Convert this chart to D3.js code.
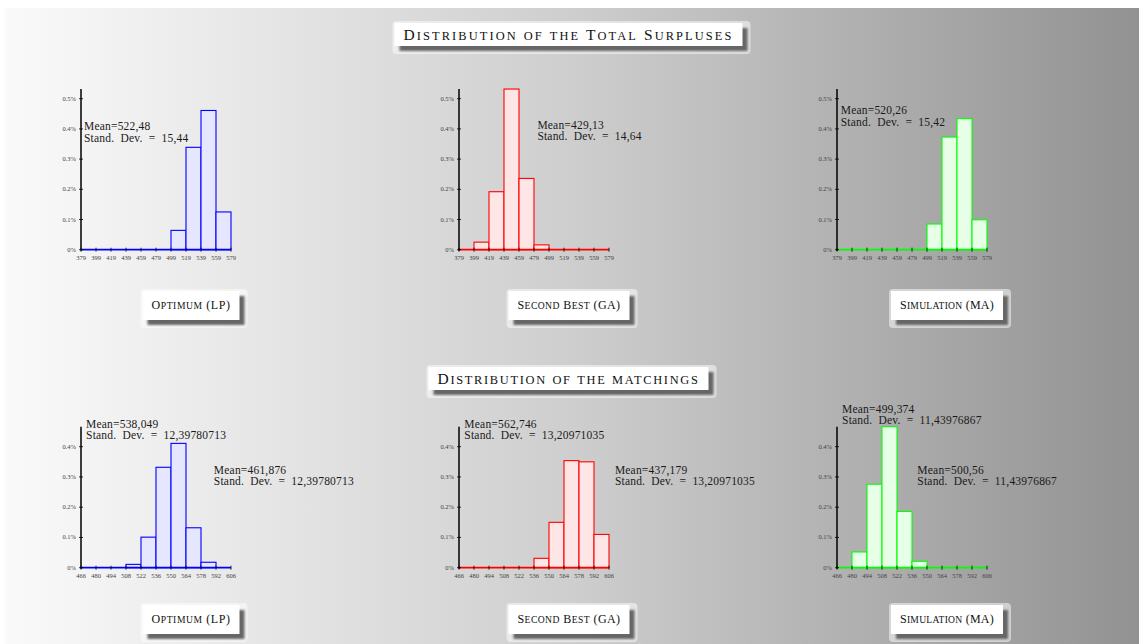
<!DOCTYPE html>
<html lang="en">
<head>
<meta charset="UTF-8">
<title>Distributions</title>
<script src="https://d3js.org/d3.v7.min.js"></script>
<style>
    body{ margin:0; background:#fff; }
    svg{ display:block; }
    .note{
        font-family: "Liberation Serif", serif;
        font-size: 11.5px;
        letter-spacing: 0.2px;
        fill: #1a1a1a;
    }
    .tick-label{
        font-family: "Liberation Serif", serif;
        font-size: 6.5px;
        fill: #444;
    }
    .caps{
        font-family: "Liberation Serif", serif;
        fill: #111;
    }
</style>
</head>
<body>
<svg width="1139" height="644"></svg>
<script>
    // bin edges (x tick labels)
    const surplusEdges = [379, 399, 419, 439, 459, 479, 499, 519, 539, 559, 579]
    const matchingEdges = [466, 480, 494, 508, 522, 536, 550, 564, 578, 592, 606]

    // bar heights, in %
    const lpSurplus = [0, 0, 0, 0, 0, 0, 0.064, 0.339, 0.461, 0.125]
    const gaSurplus = [0, 0.025, 0.192, 0.532, 0.236, 0.016, 0, 0, 0, 0]
    const maSurplus = [0, 0, 0, 0, 0, 0, 0.085, 0.373, 0.434, 0.099]
    const lpMatching = [0, 0, 0, 0.011, 0.101, 0.332, 0.411, 0.132, 0.018, 0]
    const gaMatching = [0, 0, 0, 0, 0, 0.031, 0.150, 0.354, 0.350, 0.110]
    const maMatching = [0, 0.052, 0.276, 0.466, 0.186, 0.021, 0, 0, 0, 0]

    // y tick values per row
    const surplusTicks = [0, 0.1, 0.2, 0.3, 0.4, 0.5]
    const matchingTicks = [0, 0.1, 0.2, 0.3, 0.4]

    // texts
    const rowTitles = ["Distribution of the Total Surpluses", "Distribution of the matchings"]
    const methodNames = ["Optimum (LP)", "Second Best (GA)", "Simulation (MA)"]
    const surplusNotes = [
        ["Mean=522,48", "Stand.  Dev.  =  15,44"],
        ["Mean=429,13", "Stand.  Dev.  =  14,64"],
        ["Mean=520,26", "Stand.  Dev.  =  15,42"]
    ]
    const matchingNotesA = [
        ["Mean=538,049", "Stand.  Dev.  =  12,39780713"],
        ["Mean=562,746", "Stand.  Dev.  =  13,20971035"],
        ["Mean=499,374", "Stand.  Dev.  =  11,43976867"]
    ]
    const matchingNotesB = [
        ["Mean=461,876", "Stand.  Dev.  =  12,39780713"],
        ["Mean=437,179", "Stand.  Dev.  =  13,20971035"],
        ["Mean=500,56", "Stand.  Dev.  =  11,43976867"]
    ]

    const colors = ["#0000ff", "#ff0000", "#00ff00"]
    const fills = ["#e6e6ff", "#ffe6e6", "#e6ffe6"]

    // layout
    const colX = [81, 459, 837]
    const plotW = 150
    const titleWidths = [330, 262]
    const labelWidths = [79, 103, 94]
    const rows = [
        {edges: surplusEdges, series: [lpSurplus, gaSurplus, maSurplus], ticks: surplusTicks,
         y0: 249.7, pxPerUnit: 302, titleY: 23, labelY: 291,
         notes: [surplusNotes], notePos: [[[383, 0.395], [483.5, 0.400], [384, 0.449]]]},
        {edges: matchingEdges, series: [lpMatching, gaMatching, maMatching], ticks: matchingTicks,
         y0: 567.7, pxPerUnit: 302.5, titleY: 367, labelY: 605,
         notes: [matchingNotesA, matchingNotesB],
         notePos: [[[470.7, 0.462], [471, 0.462], [470.7, 0.512]],
                   [[590, 0.31], [611.5, 0.31], [541, 0.31]]]}
    ]

    let svg = d3.select("svg")
    let width = 1139, height = 644

    // background gradient
    let defs = svg.append("defs")
    let grad = defs.append("linearGradient").attr("id", "bg")
        .attr("x1", "0%").attr("x2", "100%").attr("y1", "0%").attr("y2", "0%")
    grad.append("stop").attr("offset", "0%").attr("stop-color", "#fafafa")
    grad.append("stop").attr("offset", "50%").attr("stop-color", "#cecece")
    grad.append("stop").attr("offset", "100%").attr("stop-color", "#929292")
    let blur = defs.append("filter").attr("id", "soft")
        .attr("x", "-20%").attr("y", "-20%").attr("width", "140%").attr("height", "140%")
    blur.append("feGaussianBlur").attr("stdDeviation", 0.8)

    svg.append("rect").attr("x", 5).attr("y", 8)
        .attr("width", width - 5).attr("height", height - 8)
        .attr("fill", "url(#bg)")

    // fake small caps: lowercase runs become smaller capitals
    function smallCaps(t, str, size, ratio) {
        let runs = str.match(/[a-z]+|[^a-z]+/g)
        runs.forEach(run => {
            let lower = /[a-z]/.test(run)
            t.append("tspan")
                .style("font-size", (lower ? size * ratio : size) + "px")
                .text(run.toUpperCase())
        })
    }

    // white box with drop shadow, centred on cx
    function shadowBox(cx, top, h, text, size, targetW, padX) {
        let g = svg.append("g")
        let t = g.append("text").attr("class", "caps")
            .style("font-size", size + "px")
            .attr("xml:space", "preserve")
            .attr("y", top + h / 2 + size * 0.33)
        smallCaps(t, text, size, 0.8)
        let natural = t.node().getComputedTextLength()
        let ls = Math.max(0, (targetW - natural) / text.length)
        t.style("letter-spacing", ls + "px")
        let w = targetW + padX * 2
        let x = cx - w / 2
        t.attr("x", x + padX)
        g.insert("rect", "text").attr("x", x - 2).attr("y", top - 2)
            .attr("width", w + 10).attr("height", h + 10).attr("rx", 4)
            .attr("fill", "#ffffff").attr("fill-opacity", 0.5)
        g.insert("rect", "text").attr("x", x + 5).attr("y", top + 5)
            .attr("width", w).attr("height", h)
            .attr("fill", "#666").attr("filter", "url(#soft)")
        g.insert("rect", "text").attr("x", x).attr("y", top)
            .attr("width", w).attr("height", h)
            .attr("fill", "#ffffff")
    }

    rows.forEach((row, r) => {
        let yMax = d3.max(row.series, s => d3.max(s))
        shadowBox(568.5, row.titleY, 23, rowTitles[r], 15.5, titleWidths[r], 9)

        row.series.forEach((values, c) => {
            let x = d3.scaleLinear()
                .domain([row.edges[0], row.edges[row.edges.length - 1]])
                .range([colX[c], colX[c] + plotW])
            let y = d3.scaleLinear()
                .domain([0, yMax])
                .range([row.y0, row.y0 - yMax * row.pxPerUnit])

            let g = svg.append("g")

            // bars
            let bins = values.map((v, i) => ({x0: row.edges[i], x1: row.edges[i + 1], v: v}))
            g.selectAll(".bar")
                .data(bins.filter(d => d.v > 0))
                .enter()
                .append("rect")
                .attr("x", d => x(d.x0))
                .attr("y", d => y(d.v))
                .attr("width", d => x(d.x1) - x(d.x0))
                .attr("height", d => y(0) - y(d.v))
                .attr("fill", fills[c])
                .attr("stroke", colors[c])
                .attr("stroke-width", 1.1)

            // coloured baseline
            g.append("line")
                .attr("x1", x.range()[0]).attr("x2", x.range()[1])
                .attr("y1", y(0)).attr("y2", y(0))
                .attr("stroke", colors[c]).attr("stroke-width", 1.8)

            // y axis
            g.append("line")
                .attr("x1", x.range()[0]).attr("x2", x.range()[0])
                .attr("y1", y(0) + 1).attr("y2", y(yMax))
                .attr("stroke", "#000").attr("stroke-width", 1.5)
            g.selectAll(".ytick")
                .data(row.ticks)
                .enter()
                .append("line")
                .attr("x1", x.range()[0] - 2).attr("x2", x.range()[0] + 2)
                .attr("y1", d => y(d)).attr("y2", d => y(d))
                .attr("stroke", "#000").attr("stroke-width", 0.8)
            g.selectAll(".ylab")
                .data(row.ticks)
                .enter()
                .append("text")
                .attr("class", "tick-label")
                .attr("text-anchor", "end")
                .attr("x", x.range()[0] - 5)
                .attr("y", d => y(d) + 2)
                .text(d => d3.format(".1f")(d).replace(/^0\.0$/, "0") + "%")

            // x ticks
            g.selectAll(".xtick")
                .data(row.edges)
                .enter()
                .append("line")
                .attr("x1", d => x(d)).attr("x2", d => x(d))
                .attr("y1", y(0) - 2).attr("y2", y(0) + 2)
                .attr("stroke", "#000").attr("stroke-width", 0.8)
            g.selectAll(".xlab")
                .data(row.edges)
                .enter()
                .append("text")
                .attr("class", "tick-label")
                .attr("text-anchor", "middle")
                .attr("x", d => x(d))
                .attr("y", y(0) + 10)
                .text(d => d)

            // annotations
            row.notes.forEach((notes, k) => {
                let p = row.notePos[k][c]
                let t = g.append("text").attr("class", "note")
                    .attr("x", x(p[0])).attr("y", y(p[1]))
                    .attr("xml:space", "preserve")
                    .style("white-space", "pre")
                t.append("tspan").attr("x", x(p[0])).text(notes[c][0])
                t.append("tspan").attr("x", x(p[0])).attr("dy", 11.5).text(notes[c][1])
            })

            // method label
            shadowBox(colX[c] + 110, row.labelY, 29, methodNames[c], 12, labelWidths[c], 9)
        })
    })
</script>
</body>
</html>
